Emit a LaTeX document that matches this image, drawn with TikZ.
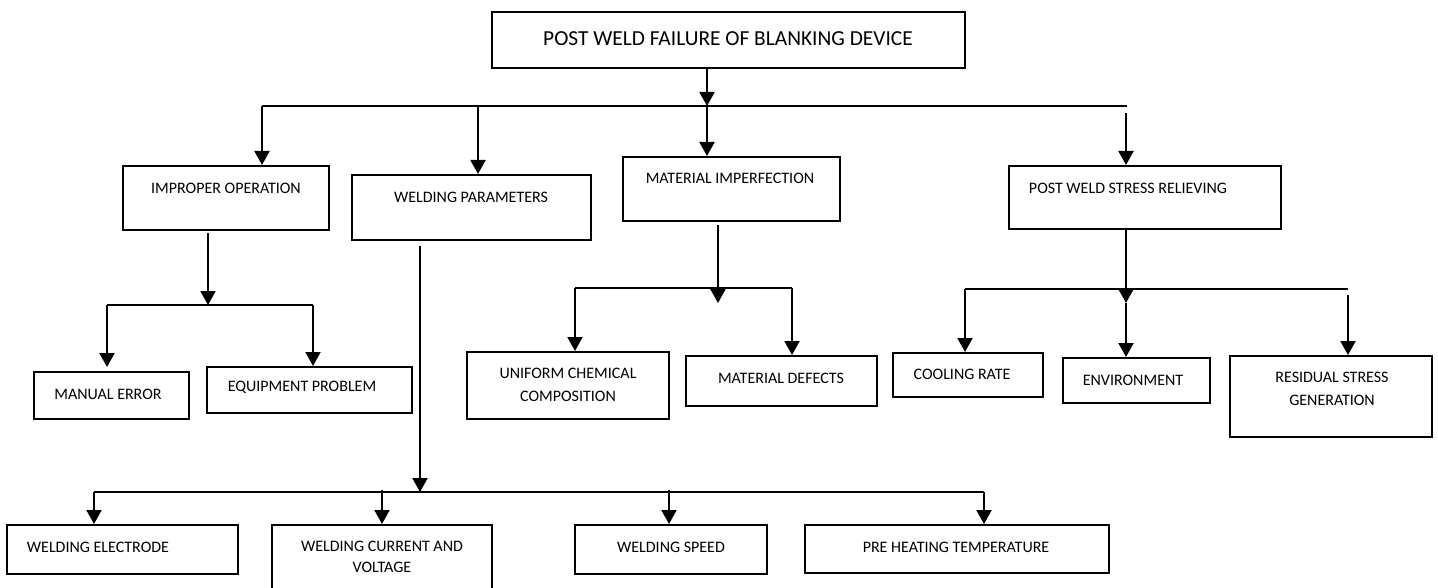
\documentclass[tikz,border=0pt]{standalone}
\usepackage{fontspec}
\setmainfont{Carlito}
\usetikzlibrary{arrows.meta,fit}
\begin{document}
\begin{tikzpicture}[x=1pt,y=-1pt,
  box/.style={draw, line width=2pt, inner sep=0pt},
  txt/.style={font=\fontsize{16}{23}\selectfont, inner sep=0pt, align=center},
  bigtxt/.style={font=\fontsize{21.4}{24}\selectfont, inner sep=0pt},
  conn/.style={line width=2pt},
  arr/.style={conn, -{Triangle[width=15pt,length=14pt]}}]
\useasboundingbox (0,0) rectangle (1438,588);

% boxes
\node[box, fit={(492,12) (965,68)}] (top) {};
\node[box, fit={(123,166) (329,230)}] (io) {};
\node[box, fit={(352,175) (591,240)}] (wp) {};
\node[box, fit={(623,157) (840,221)}] (mi) {};
\node[box, fit={(1009,166) (1281,229)}] (pw) {};
\node[box, fit={(34,372) (189,419)}] (me) {};
\node[box, fit={(207,367) (412,413)}] (ep) {};
\node[box, fit={(467,352) (669,419)}] (uc) {};
\node[box, fit={(686,356) (877,406)}] (md) {};
\node[box, fit={(893,353) (1043,397)}] (cr) {};
\node[box, fit={(1063,358) (1210,403)}] (en) {};
\node[box, fit={(1230,356) (1432,437)}] (rs) {};
\node[box, fit={(7,525) (238,574)}] (we) {};
\node[box, fit={(272,525) (492,594)}] (wc) {};
\node[box, fit={(575,525) (767,574)}] (ws) {};
\node[box, fit={(805,525) (1109,573)}] (ph) {};

% texts
\node[bigtxt] (top-t) at (728,39) {POST WELD FAILURE OF BLANKING DEVICE};
\node[txt] (io-t) at (226,188) {IMPROPER OPERATION};
\node[txt] (wp-t) at (471,197) {WELDING PARAMETERS};
\node[txt] (mi-t) at (730,178) {MATERIAL IMPERFECTION};
\node[txt] (pw-t) at (1128,188) {POST WELD STRESS RELIEVING};
\node[txt] (me-t) at (108,394) {MANUAL ERROR};
\node[txt] (ep-t) at (302,387) {EQUIPMENT PROBLEM};
\node[txt] (uc-t) at (568,385) {UNIFORM CHEMICAL\\COMPOSITION};
\node[txt] (md-t) at (781,378) {MATERIAL DEFECTS};
\node[txt] (cr-t) at (962,374) {COOLING RATE};
\node[txt] (en-t) at (1133,380) {ENVIRONMENT};
\node[txt] (rs-t) at (1332,389) {RESIDUAL STRESS\\GENERATION};
\node[txt] (we-t) at (98,547) {WELDING ELECTRODE};
\node[txt, font=\fontsize{16}{21}\selectfont] (wc-t) at (382,557) {WELDING CURRENT AND\\VOLTAGE};
\node[txt] (ws-t) at (671,547) {WELDING SPEED};
\node[txt] (ph-t) at (956,547) {PRE HEATING TEMPERATURE};

% junction coordinates
\coordinate (j0) at (707,106);
\coordinate (b1l) at (262,106);
\coordinate (b1r) at (1127,106);
\coordinate (jwp) at (478,106);
\coordinate (pwin) at (1126,113);
\coordinate (iod) at (208,233);
\coordinate (b2) at (208,305);
\coordinate (b2l) at (107,305);
\coordinate (b2r) at (313,305);
\coordinate (wpd) at (420,246);
\coordinate (b3) at (420,492);
\coordinate (b3l) at (94,492);
\coordinate (b3r) at (984,492);
\coordinate (jwc) at (382,490);
\coordinate (jws) at (669,490);
\coordinate (mid) at (718,225);
\coordinate (mib) at (718,303);
\coordinate (b4l) at (575,288);
\coordinate (b4r) at (792,288);
\coordinate (pwm) at (1126,303);
\coordinate (b5l) at (965,289);
\coordinate (b5r) at (1348,289);
\coordinate (rsin) at (1348,295);

% level 1
\draw[arr] (j0 |- top.south) -- (j0);
\draw[conn] (b1l) -- (b1r);
\draw[arr] (b1l) -- (b1l |- io.north);
\draw[arr] (jwp) -- (jwp |- wp.north);
\draw[arr] (j0) -- (j0 |- mi.north);
\draw[arr] (pwin) -- (pwin |- pw.north);

% improper operation
\draw[arr] (iod) -- (b2);
\draw[conn] (b2l) -- (b2r);
\draw[arr, shorten >=4pt] (b2l) -- (b2l |- me.north);
\draw[arr] (b2r) -- (b2r |- ep.north);

% welding parameters
\draw[arr] (wpd) -- (b3);
\draw[conn] (b3l) -- (b3r);
\draw[arr] (b3l) -- (b3l |- we.north);
\draw[arr] (jwc) -- (jwc |- wc.north);
\draw[arr] (jws) -- (jws |- ws.north);
\draw[arr] (b3r) -- (b3r |- ph.north);

% material imperfection
\draw[arr] (mid) -- (mib);
\draw[conn] (b4l) -- (b4r);
\draw[arr] (b4l) -- (b4l |- uc.north);
\draw[arr] (b4r) -- (b4r |- md.north);

% post weld stress relieving
\draw[arr] (pwm |- pw.south) -- (pwm);
\draw[arr] (pwm) -- (pwm |- en.north);
\draw[conn] (b5l) -- (b5r);
\draw[arr] (b5l) -- (b5l |- cr.north);
\draw[arr] (rsin) -- (rsin |- rs.north);
\end{tikzpicture}
\end{document}
